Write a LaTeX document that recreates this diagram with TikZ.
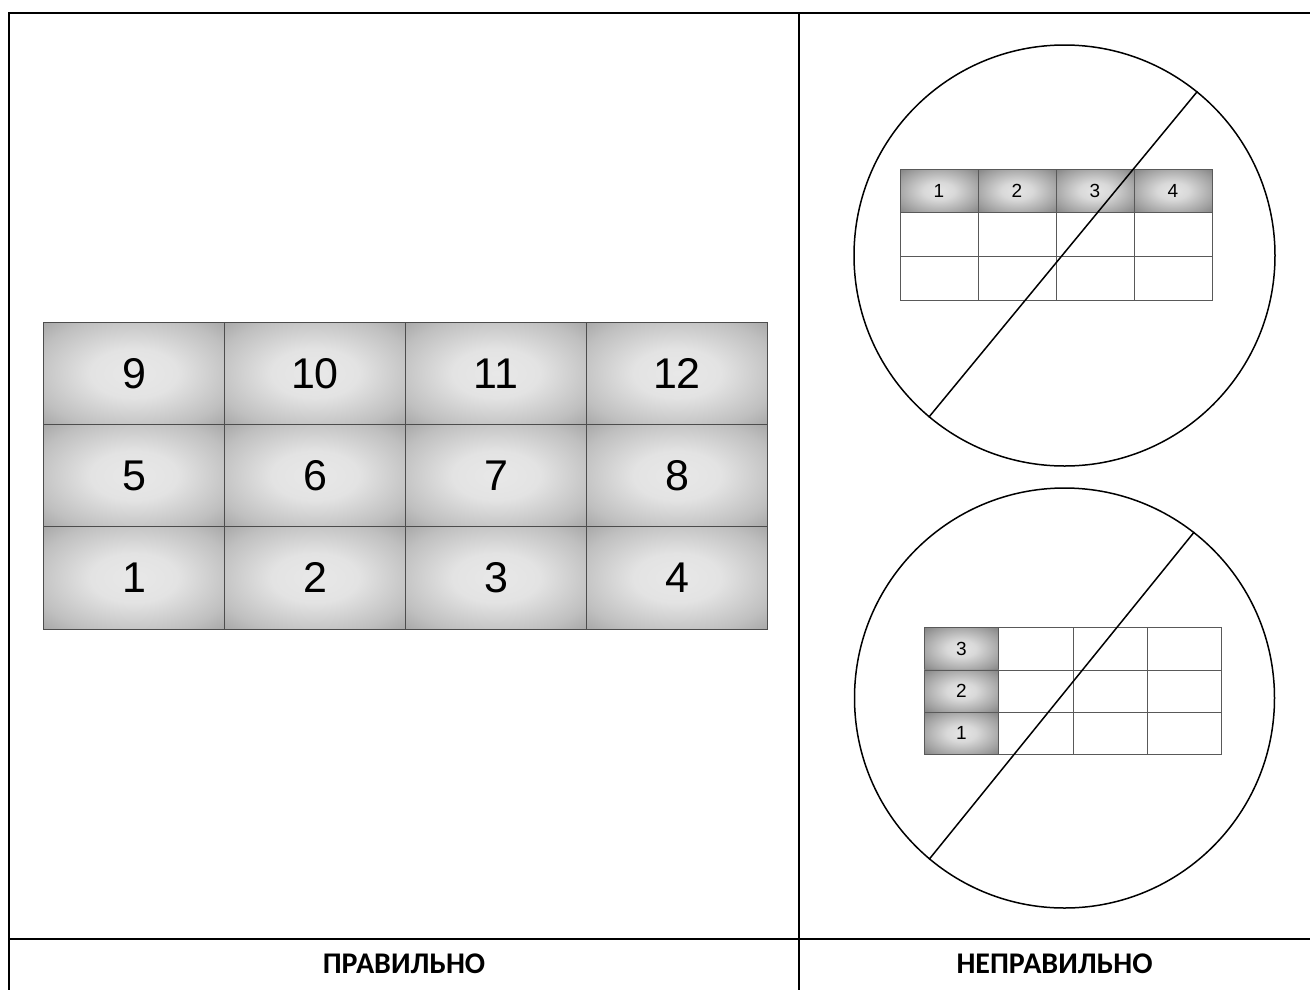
\documentclass[tikz,border=0pt]{standalone}
\usepackage{fontspec}
\setmainfont{Liberation Sans}
\newfontfamily\lblfont{Carlito}
\pgfdeclareradialshading{bigtile}{\pgfpoint{0bp}{0bp}}{color(0bp)=(black!9); color(12bp)=(black!11); color(28bp)=(black!25); color(42bp)=(black!42); color(50bp)=(black!54)}
\pgfdeclareradialshading{smalltile}{\pgfpoint{0bp}{0bp}}{color(0bp)=(black!10); color(10bp)=(black!15); color(28bp)=(black!38); color(42bp)=(black!58); color(50bp)=(black!70)}
\begin{document}
\begin{tikzpicture}[x=1pt,y=-1pt,
  frame/.style={line width=2pt,line cap=rect},
  bigcell/.style={draw=black!70,line width=0.7pt,shading=bigtile,minimum width=181pt,minimum height=102.3pt,inner sep=0pt,font=\fontsize{43}{43}\selectfont},
  hcellA/.style={draw=black!65,line width=0.6pt,shading=smalltile,minimum width=78pt,minimum height=43.7pt,inner sep=0pt,font=\fontsize{19}{19}\selectfont},
  ecellA/.style={draw=black!65,line width=0.6pt,minimum width=78pt,minimum height=43.7pt,inner sep=0pt},
  hcellB/.style={draw=black!65,line width=0.6pt,shading=smalltile,minimum width=74.35pt,minimum height=42.2pt,inner sep=0pt,font=\fontsize{19}{19}\selectfont},
  ecellB/.style={draw=black!65,line width=0.6pt,minimum width=74.35pt,minimum height=42.2pt,inner sep=0pt},
  ring/.style={circle,draw,line width=1.5pt,inner sep=0pt},
  slash/.style={line width=1.5pt},
  lbl/.style={font=\lblfont\bfseries\fontsize{30}{30}\selectfont}]
\useasboundingbox (0,0) rectangle (1310,989);
% frame
\coordinate (fTL) at (9,13);
\coordinate (fTR) at (1311,13);
\coordinate (fBL) at (9,990);
\coordinate (fMT) at (799,13);
\coordinate (fMB) at (799,990);
\coordinate (fHL) at (9,939);
\coordinate (fHR) at (1311,939);
\draw[frame] (fBL) -- (fTL) -- (fTR);
\draw[frame] (fMT) -- (fMB);
\draw[frame] (fHL) -- (fHR);
% big grid
\foreach \n [count=\i from 0] in {9,10,11,12}
  \node[bigcell] (t\n) at ({43.5+90.5+181*\i},373.2) {\n};
\foreach \n [count=\i from 0] in {5,6,7,8}
  \node[bigcell] (t\n) at ({43.5+90.5+181*\i},475.5) {\n};
\foreach \n [count=\i from 0] in {1,2,3,4}
  \node[bigcell] (t\n) at ({43.5+90.5+181*\i},577.8) {\n};
% circle 1
\node[ring,minimum size=421pt] (c1) at (1064.5,255.5) {};
\foreach \n [count=\i from 0] in {1,2,3,4}{
  \node[hcellA] (a\n) at ({900+39+78*\i},190.85) {\n};
  \node[ecellA] (a\n b) at ({900+39+78*\i},234.55) {};
  \node[ecellA] (a\n c) at ({900+39+78*\i},278.25) {};
}
\draw[slash] (c1.230.6) -- (c1.51.6);
% circle 2
\node[ring,minimum size=420pt] (c2) at (1064.5,698) {};
\foreach \n [count=\j from 0] in {3,2,1}{
  \node[hcellB] (b\n) at ({924.3+37.175},{627.7+21.1+42.2*\j}) {\n};
  \foreach \k in {1,2,3}
    \node[ecellB] (b\n x\k) at ({924.3+37.175+74.35*\k},{627.7+21.1+42.2*\j}) {};
}
\draw[slash] (c2.230.3) -- (c2.52.6);
% labels
\node[lbl] (ok) at (404,964) {ПРАВИЛЬНО};
\node[lbl] (bad) at (1054.5,964) {НЕПРАВИЛЬНО};
\end{tikzpicture}
\end{document}
